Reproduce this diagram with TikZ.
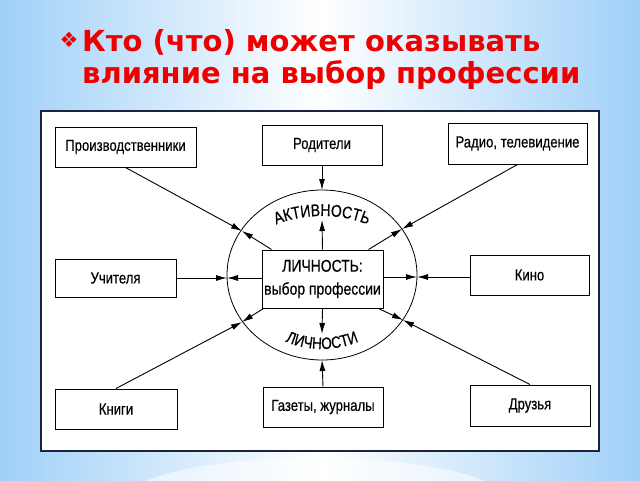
\documentclass[tikz,border=0pt]{standalone}
\usepackage{fontspec}
\setmainfont{Liberation Sans}
\newfontfamily\titlefont{DejaVu Sans}
\newfontfamily\dfont[FakeStretch=0.82,FakeBold=0.4]{Liberation Sans}
\usetikzlibrary{arrows.meta,decorations.text,calc}
\definecolor{bgblue}{RGB}{160,208,248}
\definecolor{titlered}{RGB}{238,0,0}
\definecolor{framecol}{RGB}{25,35,60}
\begin{document}
\begin{tikzpicture}[x=1pt,y=-1pt,
  box/.style={draw=black,line width=1pt,fill=white,inner sep=0pt,align=center,
    font=\dfont\fontsize{16}{19}\selectfont},
  arr/.style={line width=0.9pt,-{Latex[length=11pt,width=6pt]}}]
\useasboundingbox (0,0) rectangle (640,480);
% background
\shade[left color=bgblue,right color=bgblue,middle color=white] (0,0) rectangle (640,480);
\fill[white,opacity=0.55] (315,500) ellipse [x radius=190, y radius=42];
% title
\node[text=titlered,font=\titlefont\fontsize{21}{21}\selectfont,anchor=center] (bul) at (69,40) {❖};
\node[text=titlered,font=\titlefont\bfseries\fontsize{29}{29}\selectfont,anchor=base west,inner sep=0pt] (t1) at (82,51) {Кто (что) может оказывать};
\node[text=titlered,font=\titlefont\bfseries\fontsize{29}{29}\selectfont,anchor=base west,inner sep=0pt] (t2) at (82,83) {влияние на выбор профессии};
% frame
\draw[framecol,line width=2pt,fill=white] (41,111) rectangle (599,451);
% ellipse
\draw[line width=0.8pt] (322,275) ellipse [x radius=95, y radius=85];
% arc texts
\path[decorate,decoration={text along path,text align=center,
  text={|\dfont\fontsize{17}{17}\selectfont|АКТИВНОСТЬ}}]
  (322,275) ++(205:88 and 59) arc[start angle=205,end angle=335,x radius=88,y radius=59];
\path[decorate,decoration={text along path,text align=center,
  text={|\dfont\fontsize{16.5}{16.5}\selectfont|ЛИЧНОСТИ}}]
  (322,275) ++(150:84 and 74) arc[start angle=150,end angle=30,x radius=84,y radius=74];
% boxes
\node[box,minimum width=141pt,minimum height=40pt] (prod) at (125.5,147) {Производственники};
\node[box,minimum width=120pt,minimum height=40pt] (rod) at (322,145) {Родители};
\node[box,minimum width=139pt,minimum height=41pt] (radio) at (517.5,143.5) {Радио, телевидение};
\node[box,minimum width=121pt,minimum height=38pt] (uch) at (115.5,278) {Учителя};
\node[box,minimum width=119pt,minimum height=40pt] (kino) at (529.5,275) {Кино};
\node[box,minimum width=122pt,minimum height=40pt] (knigi) at (116,409) {Книги};
\node[box,minimum width=120pt,minimum height=40pt] (gaz) at (323,407) {Газеты, журналы};
\node[box,minimum width=120pt,minimum height=41pt] (druz) at (530,405.5) {Друзья};
\node[box,minimum width=121pt,minimum height=58pt,font=\dfont\fontsize{17}{23}\selectfont] (c) at (322.5,279) {ЛИЧНОСТЬ:\\выбор профессии};
% ellipse meeting points
\coordinate (pA) at (242,231);
\coordinate (pB) at (402,229);
\coordinate (pC) at (227,278);
\coordinate (pD) at (417,277);
\coordinate (pE) at (242,322);
\coordinate (pF) at (403,320);
\coordinate (pG) at (322,190);
\coordinate (pH) at (322,360);
\coordinate (tU) at (322,220);
\coordinate (tD) at (322,334);
% arrows
\draw[arr] (prod.south) -- (pA);
\draw[arr] ($(c.north west)+(10,0)$) -- (pA);
\draw[arr] (radio.south) -- (pB);
\draw[arr] ($(c.north east)+(-15,0)$) -- (pB);
\draw[arr] (uch.east |- pC) -- (pC);
\draw[arr] (c.west |- pC) -- (pC);
\draw[arr] (kino.west |- pD) -- (pD);
\draw[arr] (c.east |- pD) -- (pD);
\draw[arr] (knigi.north) -- (pE);
\draw[arr] ($(c.south west)+(2,0)$) -- (pE);
\draw[arr] (druz.north) -- (pF);
\draw[arr] ($(c.south east)+(-5,0)$) -- (pF);
\draw[arr] (rod.south) -- (pG);
\draw[arr] (gaz.north) -- (pH);
\draw[arr] (c.north) -- (tU);
\draw[arr] (c.south) -- (tD);
\end{tikzpicture}
\end{document}
